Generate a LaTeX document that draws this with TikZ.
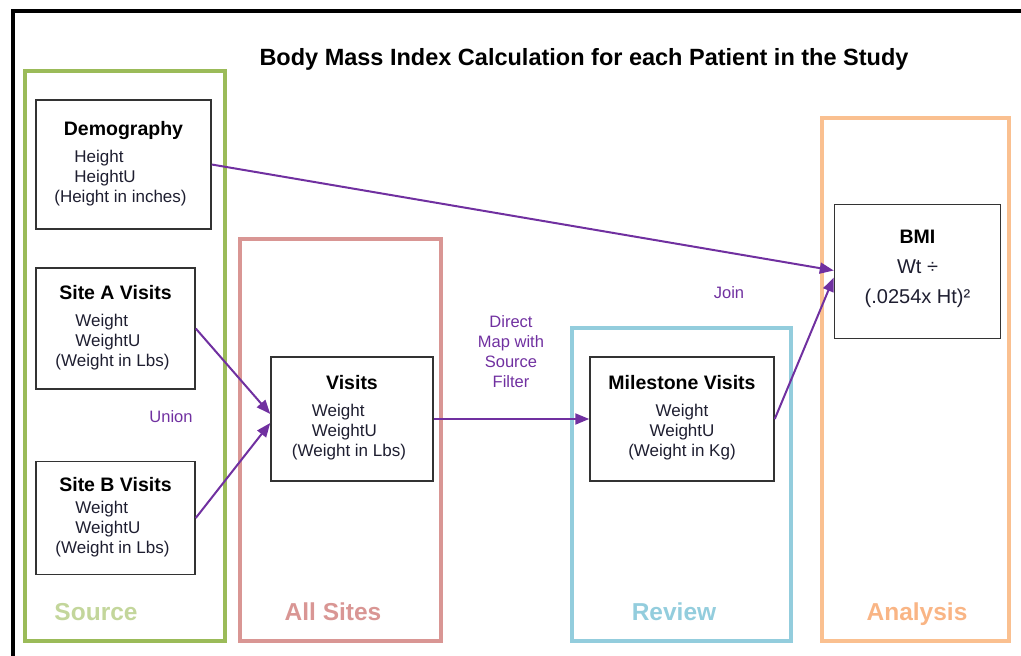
\documentclass[tikz,border=0pt]{standalone}
\usepackage{fontspec}
\setmainfont{Liberation Sans}
\usepackage{xcolor}
\definecolor{cSource}{HTML}{9BBB59}
\definecolor{cSourceTxt}{HTML}{C3D69B}
\definecolor{cSites}{HTML}{D99694}
\definecolor{cReview}{HTML}{93CDDD}
\definecolor{cAnalysis}{HTML}{FAC090}
\definecolor{cAnalysisTxt}{HTML}{F9B585}
\definecolor{cFlow}{HTML}{7030A0}
\definecolor{cBody}{HTML}{1E1E30}
\usepackage{tikz}
\usetikzlibrary{arrows.meta}
\newcommand{\hd}[1]{{\color{black}\bfseries\fontsize{19.5}{22}\selectfont #1}}
\newcommand{\fieldsL}[3]{\begin{tabular}[t]{@{}l@{}}\hspace*{20pt}#1\\\hspace*{20pt}#2\\#3\end{tabular}}
\newcommand{\fieldsC}[3]{\begin{tabular}[t]{@{}c@{}}#1\\#2\\#3\end{tabular}}
\tikzset{
  node-group/.style={line width=4pt,inner sep=0pt},
  node-box/.style={draw=black!80,line width=1.5pt,align=center,text=cBody,
    inner sep=0pt},
  group-label/.style={anchor=base,font=\bfseries\fontsize{24.5}{28}\selectfont},
  flow-label/.style={text=cFlow,align=center,font=\fontsize{16.5}{20}\selectfont},
  title/.style={anchor=base,font=\bfseries\fontsize{23.5}{28}\selectfont},
  arrow/.style={-{Triangle[length=14pt,width=11pt]},line width=2pt,draw=cFlow},
}
\begin{document}
\begin{tikzpicture}[x=1pt,y=-1pt,font=\fontsize{17}{20}\selectfont]
  \useasboundingbox (0,0) rectangle (1021,656);
  % frame
  \draw[line width=4pt] (1021,11) -- (13,11) -- (13,656);
  \node[title] (title) at (584,65) {Body Mass Index Calculation for each Patient in the Study};
  % groups
  \node[node-group,draw=cSource,minimum width=200,minimum height=570]   (gSource)   at (125,356)   {};
  \node[node-group,draw=cSites,minimum width=201,minimum height=402]    (gSites)    at (340.5,440) {};
  \node[node-group,draw=cReview,minimum width=219,minimum height=313]   (gReview)   at (681.5,484.5) {};
  \node[node-group,draw=cAnalysis,minimum width=187,minimum height=523] (gAnalysis) at (915.5,379.5) {};
  \node[group-label,text=cSourceTxt]   (lSource)   at (96,620)  {Source};
  \node[group-label,text=cSites]       (lSites)    at (333,620) {All Sites};
  \node[group-label,text=cReview]      (lReview)   at (674,620) {Review};
  \node[group-label,text=cAnalysisTxt] (lAnalysis) at (917,620) {Analysis};
  % tables
  \node[node-box,minimum width=175,minimum height=129] (demo) at (123.5,164.5)
    {\hd{Demography}\\[7pt]\fieldsL{Height}{HeightU}{(Height in inches)}\hspace*{6pt}};
  \node[node-box,minimum width=159,minimum height=121] (siteA) at (115.5,328.5)
    {\hd{Site A Visits}\\[7pt]\fieldsL{Weight}{WeightU}{(Weight in Lbs)}\hspace*{6pt}};
  \node[node-box,minimum width=159,minimum height=113] (siteB) at (115.5,518)
    {\hd{Site B Visits}\\[2pt]\fieldsL{Weight}{WeightU}{(Weight in Lbs)}\hspace*{6pt}};
  \node[node-box,minimum width=162,minimum height=124] (visits) at (352,419)
    {\hd{Visits}\\[7pt]\fieldsL{Weight}{WeightU}{(Weight in Lbs)}\hspace*{6pt}};
  \node[node-box,minimum width=184,minimum height=124] (mile) at (682,419)
    {\hd{Milestone Visits}\\[7pt]\fieldsC{Weight}{WeightU}{(Weight in Kg)}};
  \node[node-box,minimum width=166,minimum height=134] (bmi) at (917.5,271.5)
    {\hd{BMI}\\[8pt]{\fontsize{20}{30}\selectfont\begin{tabular}[t]{@{}c@{}}Wt ÷\\(.0254x Ht)²\end{tabular}}};
  % flow labels
  \node[flow-label] (union) at (171,417) {Union};
  \node[flow-label] (map)   at (511,352) {Direct\\Map with\\Source\\Filter};
  \node[flow-label] (join)  at (729,293) {Join};
  % arrows
  \draw[arrow] (demo.east)  -- ([yshift=1pt]bmi.west);
  \draw[arrow] (siteA.east) -- ([yshift=5pt]visits.west);
  \draw[arrow] (siteB.east) -- ([yshift=-4pt]visits.west);
  \draw[arrow] (visits.east) -- (mile.west);
  \draw[arrow] (mile.east)  -- ([yshift=-6pt]bmi.west);
\end{tikzpicture}
\end{document}
